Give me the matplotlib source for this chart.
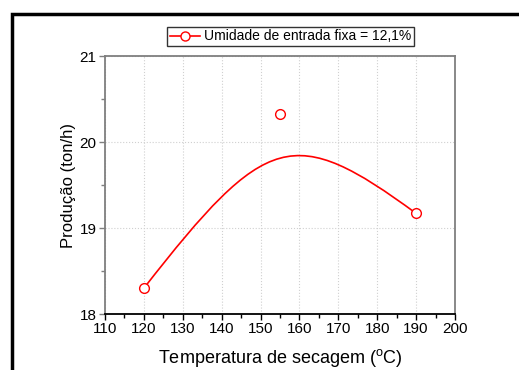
import matplotlib as mpl

mpl.use("agg")

import matplotlib.pyplot as plt
from matplotlib.lines import Line2D
from matplotlib.patches import PathPatch, Rectangle
from matplotlib.path import Path
from matplotlib.ticker import MultipleLocator

mpl.rcParams["font.family"] = ["Liberation Sans", "DejaVu Sans"]
mpl.rcParams["font.size"] = 10

temperatura = [120, 155, 190]
producao = [18.30, 20.33, 19.17]
legenda = "Umidade de entrada fixa = 12,1%"

vermelho = "#ff0000"
cinza = "#7f7f7f"

# how far the bezier handles reach toward the middle point (origin-style smoothing)
puxar = 0.9


def curva_suave(xs, ys):
    p0, p1, p2 = list(zip(xs, ys))
    c1 = (p0[0] + puxar * (p1[0] - p0[0]), p0[1] + puxar * (p1[1] - p0[1]))
    c2 = (p2[0] + puxar * (p1[0] - p2[0]), p2[1] + puxar * (p1[1] - p2[1]))
    codes = [Path.MOVETO, Path.CURVE4, Path.CURVE4, Path.CURVE4]
    return Path([p0, c1, c2, p2], codes)


fig = plt.figure(figsize=(5.19, 3.70), dpi=100)
ax = fig.add_axes([105 / 519, 1 - 314 / 370, 350 / 519, 258 / 370])

ax.add_patch(
    PathPatch(curva_suave(temperatura, producao), fill=False,
              edgecolor=vermelho, lw=1.2, zorder=3)
)
ax.plot(temperatura, producao, ls="", marker="o", ms=7, mfc="white",
        mec=vermelho, mew=1.0, zorder=4)

ax.set_xlim(110, 200)
ax.set_ylim(18, 21)
ax.xaxis.set_major_locator(MultipleLocator(10))
ax.xaxis.set_minor_locator(MultipleLocator(5))
ax.yaxis.set_major_locator(MultipleLocator(1))
ax.yaxis.set_minor_locator(MultipleLocator(0.5))

ax.grid(True, which="major", color="#d0d0d0", ls=":", lw=0.8)
ax.set_axisbelow(True)

for lado in ["top", "right", "left"]:
    ax.spines[lado].set_color(cinza)
    ax.spines[lado].set_linewidth(1.3)
ax.spines["bottom"].set_color("black")
ax.spines["bottom"].set_linewidth(1.3)

ax.tick_params(axis="both", which="major", direction="out", length=4,
               width=1.0, labelsize=11, pad=2)
ax.tick_params(axis="both", which="minor", direction="out", length=3, width=1.0)
ax.tick_params(axis="y", which="both", color=cinza)

ax.set_xlabel("Temperatura de secagem ($\\mathregular{^{o}}$C)", fontsize=13, labelpad=8)
ax.set_ylabel("Produção (ton/h)", fontsize=12, labelpad=3)

proxy = Line2D([], [], color=vermelho, lw=1.2, marker="o", ms=6.5, mfc="white",
               mec=vermelho, mew=1.0)
leg = ax.legend([proxy], [legenda], loc="lower center", bbox_to_anchor=(0.53, 1.0),
                fancybox=False, edgecolor="#333333", framealpha=1,
                fontsize=10, handlelength=2.2, handletextpad=0.3,
                borderpad=0.2, borderaxespad=0.7)
leg.get_frame().set_linewidth(1.0)

# outer frame, only its left and top edges fall inside the picture
fig.add_artist(Rectangle((12 / 519, -0.5), 2.0, 1.5 - 13.5 / 370,
                         transform=fig.transFigure, fill=False,
                         edgecolor="black", lw=2.5))

fig.savefig("out.png", dpi=100)
